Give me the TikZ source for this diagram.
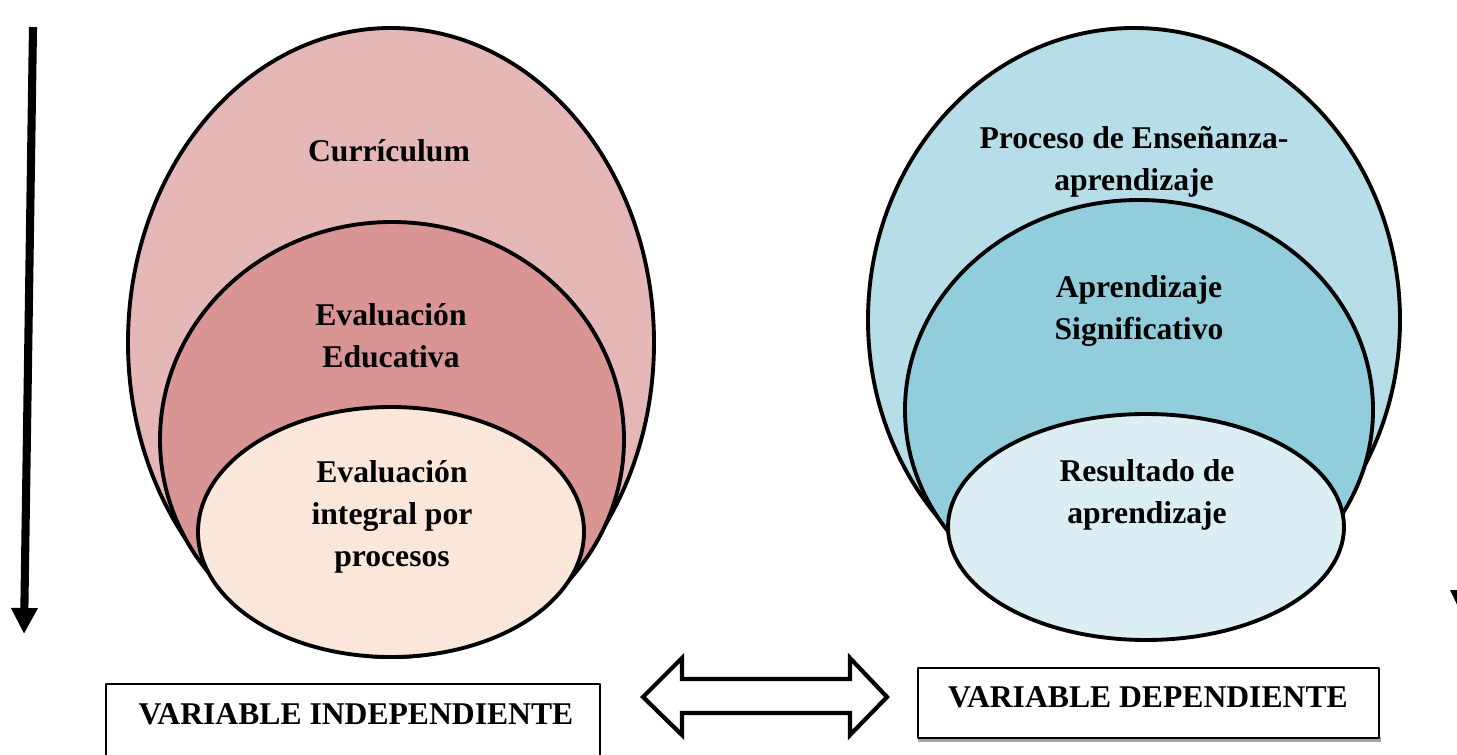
\documentclass[tikz,border=0pt]{standalone}
\usepackage{fontspec}
\setmainfont{Liberation Serif}
\usepackage{tikz}
\usetikzlibrary{arrows.meta}
\definecolor{rosaclaro}{HTML}{E5B8B7}
\definecolor{rosamedio}{HTML}{D99594}
\definecolor{durazno}{HTML}{FBE7D9}
\definecolor{celesteclaro}{HTML}{B7DDE8}
\definecolor{celestemedio}{HTML}{92CDDC}
\definecolor{celestepalido}{HTML}{DAEEF3}
\tikzset{etiqueta/.style={font=\fontsize{9}{11.9}\selectfont\bfseries,align=center,inner sep=0pt},
         borde/.style={line width=1.1pt,draw=black}}

\begin{document}
\begin{tikzpicture}[line cap=round,line join=round,x=0.01cm,y=0.01cm]
\clip (0,0) rectangle (1457,754);
% flecha vertical izquierda
\draw [line width=2.3pt,line cap=butt,-{Triangle[length=2.6mm,width=2.5mm]}] (33,727) -- (24,120);
\fill (1450,164) -- (1474,164) -- (1462,139) -- cycle;
% variable independiente
\draw [borde,fill=rosaclaro] (391,411.5) ellipse [x radius=263, y radius=314.5];
\draw [borde,fill=rosamedio] (392,314.5) ellipse [x radius=232, y radius=217.5];
\draw [borde,fill=durazno] (391,222) ellipse [x radius=193, y radius=125];
\node [etiqueta] (curriculum) at (389,603) {Currículum};
\node [etiqueta] (evaleduc) at (391,418) {Evaluación\\Educativa};
\node [etiqueta] (evalint) at (392,237) {Evaluación\\integral por\\procesos};
% variable dependiente
\draw [borde,fill=celesteclaro] (1134,434) ellipse [x radius=266, y radius=292];
\draw [borde,fill=celestemedio] (1139,344) ellipse [x radius=234, y radius=210];
\draw [borde,fill=celestepalido] (1146,227) ellipse [x radius=198, y radius=113];
\node [etiqueta] (proceso) at (1134,592) {Proceso de Enseñanza-\\aprendizaje};
\node [etiqueta] (signif) at (1139,443) {Aprendizaje\\Significativo};
\node [etiqueta] (resultado) at (1147,259) {Resultado de\\aprendizaje};
% cajas
\draw [line width=0.6pt] (106,70) rectangle (600,-10);
\node [etiqueta] (vindep) at (356,40) {VARIABLE INDEPENDIENTE};
\fill [black!35] (918,12) rectangle (1381,17);
\draw [line width=0.8pt,fill=white] (918,86) rectangle (1379,16);
\node [etiqueta] (vdep) at (1148,57) {VARIABLE DEPENDIENTE};
% flecha doble
\draw [line width=1.2pt,line join=miter,fill=white] (643,57) -- (682,96) -- (682,75) -- (850,75) -- (850,96) -- (887,57) -- (850,19) -- (850,41) -- (682,41) -- (682,19) -- cycle;
\end{tikzpicture}
\end{document}
